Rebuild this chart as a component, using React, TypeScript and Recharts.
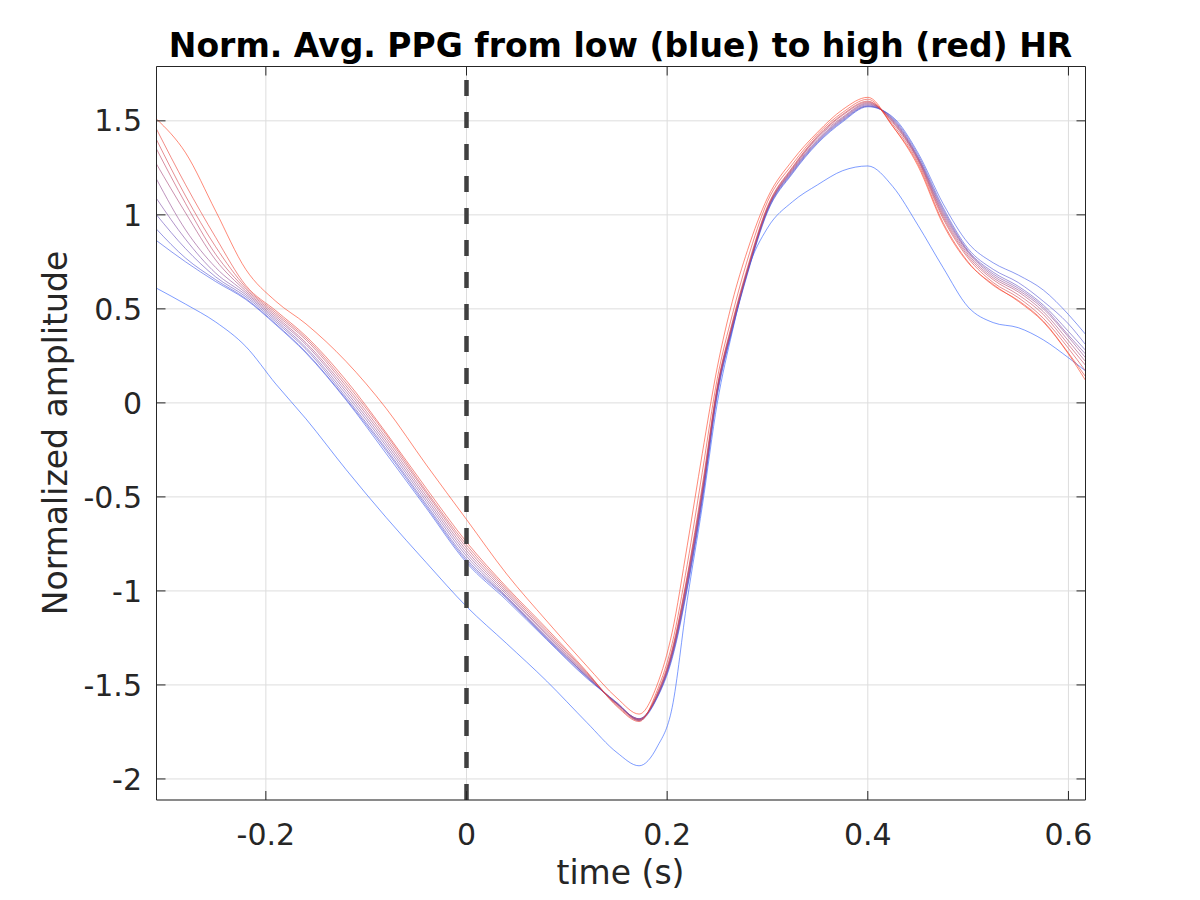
import { CartesianGrid, Line, LineChart, ReferenceLine, XAxis, YAxis } from 'recharts';

// time axis (s)
const time = [
  -0.309, -0.28, -0.25, -0.22, -0.19, -0.16, -0.12, -0.08, -0.04, 0, 0.04, 0.08,
  0.12, 0.15, 0.172, 0.19, 0.205, 0.22, 0.235, 0.25, 0.265, 0.28, 0.3, 0.325,
  0.35, 0.375, 0.4, 0.425, 0.45, 0.475, 0.5, 0.525, 0.55, 0.575, 0.6, 0.617,
];

// averaged beats, lowest HR first
const hr0 = [0.61, 0.525, 0.43, 0.3, 0.1, -0.085, -0.355, -0.61, -0.85, -1.083, -1.28, -1.48, -1.7, -1.86, -1.93, -1.83, -1.62, -1.05, -0.55, 0.0, 0.38, 0.7, 0.93, 1.07, 1.16, 1.235, 1.26, 1.15, 0.945, 0.72, 0.51, 0.427, 0.4, 0.335, 0.24, 0.17];
const hr1 = [0.863, 0.75, 0.645, 0.55, 0.415, 0.265, 0.015, -0.27, -0.56, -0.85, -1.05, -1.26, -1.465, -1.595, -1.69, -1.57, -1.36, -0.99, -0.52, 0.04, 0.39, 0.685, 1.015, 1.22, 1.38, 1.495, 1.575, 1.52, 1.33, 1.06, 0.85, 0.745, 0.68, 0.6, 0.47, 0.365];
const hr2 = [0.924, 0.77, 0.655, 0.555, 0.42, 0.27, 0.02, -0.255, -0.55, -0.84, -1.04, -1.255, -1.46, -1.595, -1.685, -1.565, -1.35, -0.98, -0.51, 0.05, 0.395, 0.69, 1.02, 1.225, 1.385, 1.5, 1.578, 1.515, 1.32, 1.04, 0.82, 0.71, 0.64, 0.54, 0.42, 0.31];
const hr3 = [1.0, 0.82, 0.67, 0.565, 0.43, 0.285, 0.03, -0.245, -0.54, -0.83, -1.035, -1.25, -1.455, -1.6, -1.68, -1.565, -1.34, -0.97, -0.5, 0.06, 0.4, 0.695, 1.025, 1.23, 1.39, 1.505, 1.58, 1.51, 1.31, 1.03, 0.81, 0.695, 0.62, 0.52, 0.38, 0.28];
const hr4 = [1.087, 0.87, 0.69, 0.575, 0.44, 0.295, 0.045, -0.23, -0.525, -0.815, -1.03, -1.245, -1.455, -1.6, -1.68, -1.56, -1.34, -0.96, -0.49, 0.065, 0.405, 0.7, 1.03, 1.235, 1.395, 1.51, 1.585, 1.505, 1.305, 1.02, 0.805, 0.685, 0.61, 0.51, 0.36, 0.26];
const hr5 = [1.19, 0.92, 0.72, 0.585, 0.45, 0.31, 0.06, -0.215, -0.51, -0.8, -1.02, -1.235, -1.45, -1.6, -1.68, -1.56, -1.33, -0.95, -0.48, 0.07, 0.41, 0.7, 1.03, 1.24, 1.4, 1.515, 1.59, 1.5, 1.3, 1.01, 0.8, 0.675, 0.6, 0.5, 0.35, 0.24];
const hr6 = [1.27, 1.01, 0.76, 0.595, 0.46, 0.32, 0.075, -0.2, -0.495, -0.785, -1.01, -1.23, -1.445, -1.6, -1.685, -1.555, -1.33, -0.94, -0.47, 0.075, 0.415, 0.705, 1.035, 1.245, 1.41, 1.52, 1.595, 1.495, 1.295, 1.0, 0.79, 0.665, 0.59, 0.485, 0.33, 0.22];
const hr7 = [1.35, 1.06, 0.79, 0.605, 0.47, 0.335, 0.09, -0.185, -0.48, -0.77, -1.0, -1.22, -1.44, -1.605, -1.685, -1.55, -1.32, -0.93, -0.46, 0.08, 0.42, 0.71, 1.04, 1.25, 1.415, 1.53, 1.6, 1.49, 1.29, 0.99, 0.78, 0.655, 0.575, 0.47, 0.31, 0.2];
const hr8 = [1.4, 1.1, 0.83, 0.615, 0.48, 0.345, 0.105, -0.17, -0.47, -0.755, -0.99, -1.21, -1.435, -1.61, -1.69, -1.545, -1.31, -0.92, -0.44, 0.09, 0.43, 0.72, 1.045, 1.255, 1.42, 1.535, 1.605, 1.48, 1.28, 0.98, 0.77, 0.64, 0.56, 0.45, 0.29, 0.17];
const hr9 = [1.456, 1.16, 0.88, 0.625, 0.49, 0.355, 0.12, -0.16, -0.455, -0.74, -0.98, -1.2, -1.43, -1.615, -1.695, -1.53, -1.28, -0.86, -0.37, 0.13, 0.47, 0.76, 1.07, 1.27, 1.43, 1.545, 1.615, 1.47, 1.27, 0.96, 0.75, 0.625, 0.545, 0.435, 0.265, 0.14];
const hr10 = [1.51, 1.33, 1.02, 0.71, 0.54, 0.42, 0.22, -0.03, -0.33, -0.62, -0.91, -1.16, -1.4, -1.57, -1.655, -1.5, -1.22, -0.76, -0.27, 0.19, 0.54, 0.81, 1.09, 1.29, 1.44, 1.56, 1.625, 1.47, 1.26, 0.95, 0.745, 0.63, 0.54, 0.43, 0.26, 0.12];

const xTicks = [-0.2, 0, 0.2, 0.4, 0.6];
const yTicks = [-2, -1.5, -1, -0.5, 0, 0.5, 1, 1.5];

const series = [hr0, hr1, hr2, hr3, hr4, hr5, hr6, hr7, hr8, hr9, hr10];
// blue -> red
const colors = [
  '#285aff', '#3e57e8', '#5354d2', '#6851bc', '#7e4ea5', '#934b8f',
  '#a94878', '#bf4562', '#d4424b', '#ea3f35', '#ff3c1e',
];

const data = time.map((t, i) => {
  const row: Record<string, number> = { t };
  series.forEach((s, k) => {
    row['hr' + k] = s[i];
  });
  return row;
});

const font = '"DejaVu Sans", sans-serif';
const ink = '#262626';
const xDomain = [-0.309, 0.617];
const yDomain = [-2.112, 1.789];
const blank = () => '';

export default function App() {
  return (
    <div style={{ position: 'absolute', left: 0, top: 0, width: 1200, height: 900, background: '#fff' }}>
      <LineChart
        width={1200}
        height={900}
        data={data}
        margin={{ top: 65.5, right: 113.5, left: 56.5, bottom: 40 }}
      >
        <CartesianGrid stroke="#dddddd" />
        <XAxis
          dataKey="t"
          type="number"
          domain={xDomain}
          ticks={xTicks}
          allowDataOverflow
          height={60}
          tickSize={-9}
          tickMargin={33}
          stroke={ink}
          tick={{ fill: ink, fontSize: 30, fontFamily: font }}
        />
        {/* box: top and right sides with inward ticks */}
        <XAxis
          xAxisId="top"
          orientation="top"
          dataKey="t"
          type="number"
          domain={xDomain}
          ticks={xTicks}
          allowDataOverflow
          height={1}
          tickSize={-9}
          tickFormatter={blank}
          stroke={ink}
        />
        <YAxis
          type="number"
          domain={yDomain}
          ticks={yTicks}
          allowDataOverflow
          width={100}
          tickSize={-9}
          tickMargin={23.5}
          stroke={ink}
          tick={{ fill: ink, fontSize: 30, fontFamily: font }}
        />
        <YAxis
          yAxisId="right"
          orientation="right"
          type="number"
          domain={yDomain}
          ticks={yTicks}
          allowDataOverflow
          width={1}
          tickSize={-9}
          tickFormatter={blank}
          stroke={ink}
        />
        {series.map((_, k) => (
          <Line
            key={k}
            dataKey={'hr' + k}
            type="monotone"
            stroke={colors[k]}
            strokeOpacity={0.6}
            strokeWidth={1}
            dot={false}
            activeDot={false}
            isAnimationActive={false}
          />
        ))}
        <ReferenceLine x={0} stroke="#404040" strokeWidth={4.5} strokeDasharray="16 16" />
      </LineChart>
      <svg
        width={1200}
        height={900}
        style={{ position: 'absolute', left: 0, top: 0, pointerEvents: 'none' }}
      >
        <text x={620.5} y={57} textAnchor="middle" fontFamily={font} fontSize={33} fontWeight="bold" fill="#000">
          Norm. Avg. PPG from low (blue) to high (red) HR
        </text>
        <text x={620.5} y={884} textAnchor="middle" fontFamily={font} fontSize={33} fill={ink}>
          time (s)
        </text>
        <text
          x={67}
          y={433}
          transform="rotate(-90 67 433)"
          textAnchor="middle"
          fontFamily={font}
          fontSize={33}
          fill={ink}
        >
          Normalized amplitude
        </text>
      </svg>
    </div>
  );
}
